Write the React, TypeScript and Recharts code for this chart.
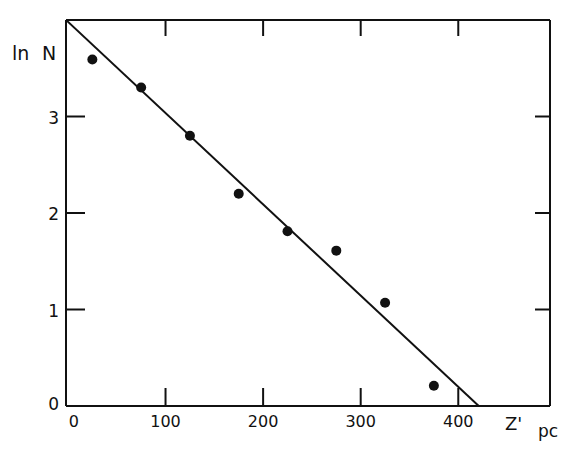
import React from 'react'
import { ComposedChart, XAxis, YAxis, Scatter, Line } from 'recharts'

// distance Z' (pc) and ln N
const depthPc = [25, 75, 125, 175, 225, 275, 325, 375]
const lnN = [3.59, 3.3, 2.8, 2.2, 1.81, 1.61, 1.07, 0.21]

// fitted straight line end points
const fitDepth = [-2, 421]
const fitLnN = [4, 0]

const xTicks = [0, 100, 200, 300, 400]
const yTicks = [0, 1, 2, 3]
const topTicks = [100, 200, 300, 400]
const rightTicks = [1, 2, 3]

const X_DOMAIN: [number, number] = [-2, 494]
const Y_DOMAIN: [number, number] = [0, 4]

const INK = '#111'
const FONT = '"DejaVu Sans", sans-serif'

const points = depthPc.map((x, i) => ({ x, y: lnN[i] }))
const fit = fitDepth.map((x, i) => ({ x, y: fitLnN[i] }))

type Side = 'bottom' | 'left' | 'top' | 'right'

function makeTick(side: Side) {
  return (props: any) => {
    const { x, y, payload } = props
    const v = payload.value
    if (side === 'bottom') {
      return (
        <g>
          {v !== 0 && <line x1={x} y1={y} x2={x} y2={y - 18} stroke={INK} strokeWidth={2} />}
          <text x={x + (v === 0 ? 6 : 0)} y={y + 21} textAnchor="middle" fontSize={16} fontFamily={FONT} fill={INK}>
            {v}
          </text>
        </g>
      )
    }
    if (side === 'left') {
      return (
        <g>
          {v !== 0 && <line x1={x} y1={y} x2={x + 19} y2={y} stroke={INK} strokeWidth={2} />}
          <text x={x - 7} y={v === 0 ? y + 4 : y + 7} textAnchor="end" fontSize={17} fontFamily={FONT} fill={INK}>
            {v}
          </text>
        </g>
      )
    }
    if (side === 'top') {
      return <line x1={x} y1={y} x2={x} y2={y + 16} stroke={INK} strokeWidth={2} />
    }
    return <line x1={x} y1={y} x2={x - 15} y2={y} stroke={INK} strokeWidth={2} />
  }
}

const xLabel = (props: any) => {
  const vb = props.viewBox
  const right = vb.x + vb.width
  return (
    <g fontFamily={FONT} fill={INK}>
      <text x={right - 45} y={vb.y + 24} fontSize={18}>Z'</text>
      <text x={right - 12} y={vb.y + 31} fontSize={17}>pc</text>
    </g>
  )
}

const yLabel = () => (
  <g fontFamily={FONT} fill={INK}>
    <text x={12} y={60} fontSize={19}>ln</text>
    <text x={42} y={60} fontSize={19}>N</text>
  </g>
)

export default function App() {
  return (
    <div style={{ position: 'absolute', left: 0, top: 0, background: '#fff' }}>
      <ComposedChart width={570} height={454} margin={{ top: 19, right: 19, bottom: 0, left: 0 }}>
        <XAxis
          xAxisId="b"
          dataKey="x"
          type="number"
          domain={X_DOMAIN}
          allowDataOverflow
          ticks={xTicks}
          height={48}
          tickSize={0}
          tickMargin={0}
          tickLine={false}
          axisLine={{ stroke: INK, strokeWidth: 2 }}
          tick={makeTick('bottom')}
          interval={0}
          label={{ content: xLabel }}
        />
        <XAxis
          xAxisId="t"
          orientation="top"
          dataKey="x"
          type="number"
          domain={X_DOMAIN}
          allowDataOverflow
          ticks={topTicks}
          height={1}
          tickSize={0}
          tickMargin={0}
          tickLine={false}
          axisLine={{ stroke: INK, strokeWidth: 2 }}
          tick={makeTick('top')}
          interval={0}
        />
        <YAxis
          yAxisId="l"
          dataKey="y"
          type="number"
          domain={Y_DOMAIN}
          allowDataOverflow
          ticks={yTicks}
          width={66}
          tickSize={0}
          tickMargin={0}
          tickLine={false}
          axisLine={{ stroke: INK, strokeWidth: 2 }}
          tick={makeTick('left')}
          interval={0}
          label={{ content: yLabel }}
        />
        <YAxis
          yAxisId="r"
          orientation="right"
          dataKey="y"
          type="number"
          domain={Y_DOMAIN}
          allowDataOverflow
          ticks={rightTicks}
          width={1}
          tickSize={0}
          tickMargin={0}
          tickLine={false}
          axisLine={{ stroke: INK, strokeWidth: 2 }}
          tick={makeTick('right')}
          interval={0}
        />
        {/* invisible series so the top and right frame axes get drawn */}
        <Scatter
          xAxisId="t"
          yAxisId="r"
          data={points}
          dataKey="y"
          shape={() => <g />}
          isAnimationActive={false}
        />
        <Line
          xAxisId="b"
          yAxisId="l"
          data={fit}
          dataKey="y"
          type="linear"
          stroke={INK}
          strokeWidth={2}
          dot={false}
          activeDot={false}
          isAnimationActive={false}
        />
        <Scatter
          xAxisId="b"
          yAxisId="l"
          data={points}
          dataKey="y"
          fill={INK}
          shape={(p: any) => <circle cx={p.cx} cy={p.cy} r={5} fill={INK} />}
          isAnimationActive={false}
        />
      </ComposedChart>
    </div>
  )
}
